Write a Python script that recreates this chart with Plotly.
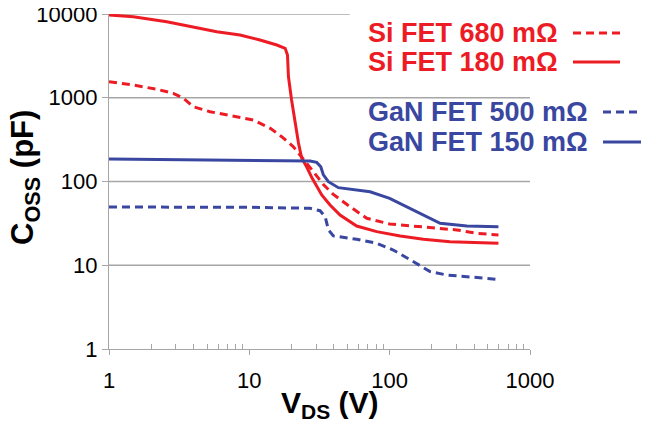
import plotly.graph_objects as go

# ---- data (V_DS in volts, C_OSS in pF) ----
si180_v = [1, 1.49, 2.58, 3.99, 5.86, 8.58, 11.9, 15.7, 17.5, 18.0, 18.7, 19.0, 20.0, 21.2, 22.4, 23.6,
           25.6, 28.0, 30.2, 32.8, 37.6, 44.3, 58.2, 80.9, 119, 174, 269, 418, 596]
si180_c = [9730, 9290, 8090, 7050, 6150, 5610, 4900, 4265, 4000, 3890, 3240, 1783, 940, 500, 288, 191,
           150, 110, 86.7, 69, 52.4, 39.8, 29.4, 25.2, 22.4, 20.4, 19.1, 18.6, 18.3]

si680_v = [1, 1.49, 2.19, 2.87, 3.39, 3.99, 5.25, 7.69, 10.7, 14.1, 17.0, 20.6, 24.3, 28.6, 33.7,
           39.7, 52.2, 68.7, 100, 174, 301, 418, 596]
si680_c = [1555, 1420, 1262, 1130, 985, 782, 681, 606, 542, 432, 343, 260, 181, 131, 92,
           70, 50, 36.4, 31.1, 28.4, 26.4, 24.1, 23]

gan150_v = [1, 4.45, 13.3, 27.1, 30.2, 32.3, 33.7, 36.6, 43.1, 52.2, 72.5, 100, 140, 184, 229, 355, 596]
gan150_c = [186, 181, 177, 176, 169, 150, 120, 99.5, 84.4, 81.3, 75.5, 63, 47.9, 38, 31.7, 29.4, 28.9]

gan500_v = [1, 10.1, 27, 31.9, 34.7, 36.6, 39.7, 58.2, 80.9, 106, 148, 194, 255, 374, 580]
gan500_c = [49.6, 49.2, 47.9, 44.8, 38, 26.4, 22.4, 20.4, 18.3, 15.2, 11, 8.4, 7.65, 7.3, 6.8]

x_ticks = [1, 10, 100, 1000]
x_minor = [m * d for d in (1, 10, 100) for m in range(2, 10)]
y_ticks = [1, 10, 100, 1000, 10000]

RED = "#ED1C24"
BLUE = "#3A47A0"
GRID = "#A6A6A6"
FONT = "Liberation Sans, Arial, sans-serif"

# page body has an 8px default margin: figure origin sits at screen (8, 8)
OFF = 8
W, H = 649 - OFF, 428 - OFF
L, T = 109 - OFF, 14 - OFF
PW, PH = 421, 335

fig = go.Figure()
fig.add_trace(go.Scatter(x=si680_v, y=si680_c, mode="lines",
                         line=dict(color=RED, width=3, dash="8px,5px")))
fig.add_trace(go.Scatter(x=si180_v, y=si180_c, mode="lines",
                         line=dict(color=RED, width=3)))
fig.add_trace(go.Scatter(x=gan500_v, y=gan500_c, mode="lines",
                         line=dict(color=BLUE, width=3, dash="8px,5px")))
fig.add_trace(go.Scatter(x=gan150_v, y=gan150_c, mode="lines",
                         line=dict(color=BLUE, width=3)))

# gridlines
shapes = []
for g in [10, 100, 1000]:
    shapes.append(dict(type="line", xref="paper", yref="y", x0=0, x1=1, y0=g, y1=g,
                       line=dict(color=GRID, width=1.3), layer="below"))
shapes.append(dict(type="line", xref="paper", yref="y", x0=0, x1=0.572, y0=10000, y1=10000,
                   line=dict(color=GRID, width=1.3), layer="below"))


def px(xs):
    """screen x -> paper x"""
    return (xs - 109) / float(PW)


def py(ys):
    """screen y -> paper y"""
    return (349 - ys) / float(PH)


leg = [
    ("Si FET 680 mΩ", RED, "8px,5px", 33, 573, 620),
    ("Si FET 180 mΩ", RED, "solid", 62, 573, 620),
    ("GaN FET 500 mΩ", BLUE, "8px,5px", 112, 603, 652),
    ("GaN FET 150 mΩ", BLUE, "solid", 142, 603, 652),
]
annotations = []
for text, col, dash, yc, x0, x1 in leg:
    annotations.append(dict(text="<b>" + text + "</b>", xref="paper", yref="paper",
                            x=px(366), y=py(yc), xanchor="left", yanchor="middle",
                            showarrow=False, font=dict(family=FONT, size=27, color=col)))
    shapes.append(dict(type="line", xref="paper", yref="paper", x0=px(x0), x1=px(x1),
                       y0=py(yc), y1=py(yc), line=dict(color=col, width=3, dash=dash)))

annotations.append(dict(text="<b>V<sub>DS</sub> (V)</b>", xref="paper", yref="paper",
                        x=px(330), y=py(404), xanchor="center", yanchor="middle",
                        showarrow=False, font=dict(family=FONT, size=30, color="black")))
annotations.append(dict(text="<b>C<sub>OSS</sub> (pF)</b>", xref="paper", yref="paper",
                        x=px(25), y=py(178), xanchor="center", yanchor="middle", textangle=-90,
                        showarrow=False, font=dict(family=FONT, size=31, color="black")))

fig.update_layout(
    width=W, height=H,
    margin=dict(l=L, r=W - L - PW, t=T, b=H - T - PH, pad=0),
    paper_bgcolor="white", plot_bgcolor="white",
    showlegend=False,
    shapes=shapes, annotations=annotations,
    font=dict(family=FONT, color="black"),
)
fig.update_xaxes(type="log", range=[0, 3], tickvals=x_ticks, ticktext=[str(v) for v in x_ticks],
                 automargin=False, ticklabeloverflow="allow",
                 showgrid=False, zeroline=False, showline=True, linecolor=GRID, linewidth=1.3,
                 ticks="outside", ticklen=5, tickcolor=GRID, tickwidth=1.3,
                 tickfont=dict(family=FONT, size=22, color="black"), ticklabelstandoff=6,
                 minor=dict(tickvals=x_minor, ticks="inside", ticklen=5, tickcolor=GRID,
                            tickwidth=1, showgrid=False))
fig.update_yaxes(type="log", range=[0, 4], tickvals=y_ticks, ticktext=[str(v) for v in y_ticks],
                 automargin=False, ticklabeloverflow="allow",
                 showgrid=False, zeroline=False, showline=True, linecolor=GRID, linewidth=1.3,
                 ticks="outside", ticklen=6, tickcolor=GRID, tickwidth=1.3,
                 tickfont=dict(family=FONT, size=22, color="black"))

fig.write_html("out.html")
